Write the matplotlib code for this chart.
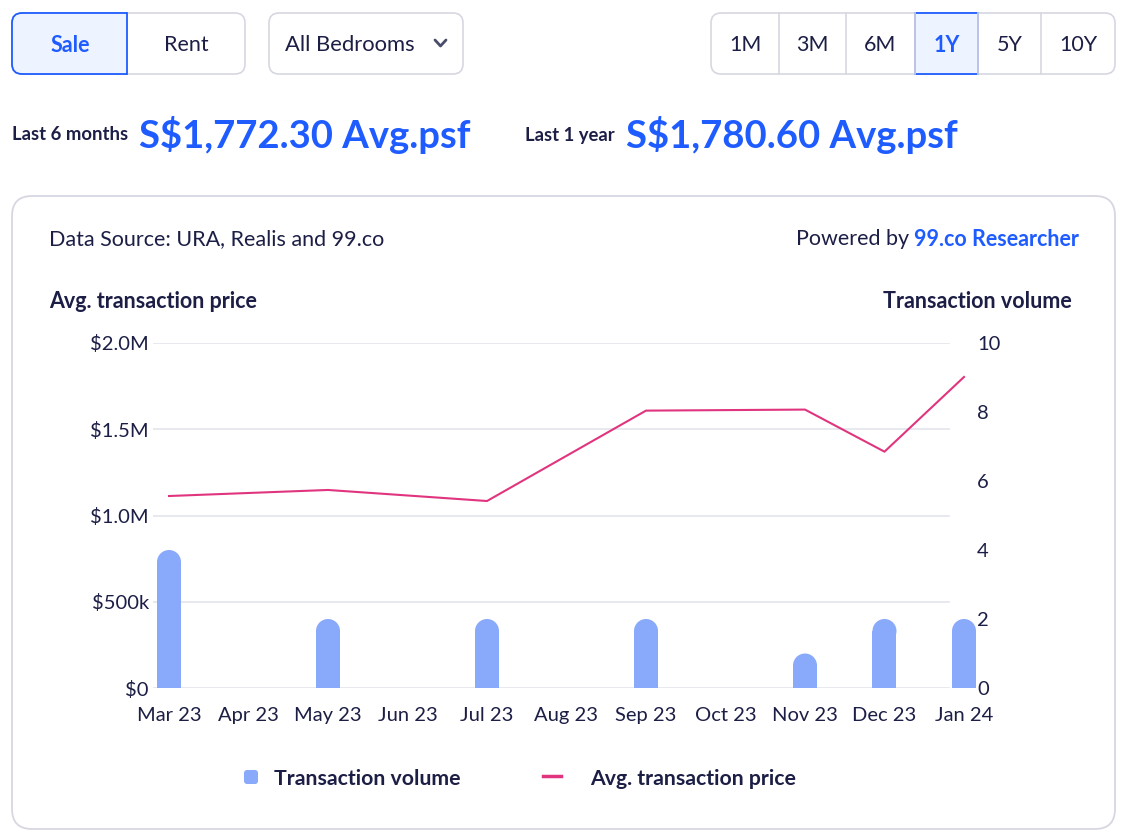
import numpy as np
import matplotlib.pyplot as plt
from matplotlib.patches import FancyBboxPatch, Rectangle, Ellipse

months = ["Mar 23", "Apr 23", "May 23", "Jun 23", "Jul 23", "Aug 23",
          "Sep 23", "Oct 23", "Nov 23", "Dec 23", "Jan 24"]
volume = [4, 0, 2, 0, 2, 0, 2, 0, 1, 2, 2]
price = [1113000, np.nan, 1148000, np.nan, 1084000, np.nan,
         1608000, np.nan, 1614000, 1370000, 1803000]
price_ticks = [0, 500000, 1000000, 1500000, 2000000]
price_labels = ["$0", "$500k", "$1.0M", "$1.5M", "$2.0M"]
vol_ticks = [0, 2, 4, 6, 8, 10]
periods = ["1M", "3M", "6M", "1Y", "5Y", "10Y"]

NAVY = "#1c1e45"
BLUE = "#1f5cff"
BAR = "#89a9fb"
PINK = "#e0357e"
GRID = "#e6e6ee"
BORDER = "#d7d7e2"
LIGHT = "#eef4ff"

plt.rcParams['font.family'] = ['Lato', 'DejaVu Sans']

W, H = 1131, 840
fig = plt.figure(figsize=(W / 100, H / 100), dpi=100)
fig.patch.set_facecolor("white")

# background layer in pixel coordinates (y downwards)
bg = fig.add_axes([0, 0, 1, 1], zorder=0)
bg.set_xlim(0, W)
bg.set_ylim(H, 0)
bg.axis("off")


def rbox(x0, y0, x1, y1, r, fc="white", ec=BORDER, lw=1.2, **kw):
    p = FancyBboxPatch((x0, y0), x1 - x0, y1 - y0,
                       boxstyle=f"round,pad=0,rounding_size={r}",
                       fc=fc, ec=ec, lw=lw, **kw)
    bg.add_patch(p)
    return p


# Sale / Rent toggle
rbox(12, 13, 245, 74, 10)
sale = rbox(12, 13, 140, 74, 10, fc=LIGHT, ec=BLUE, lw=1.3)
clip = Rectangle((0, 0), 127, 100, transform=bg.transData)
sale.set_clip_path(clip)
bg.plot([127, 127], [13, 74], color=BLUE, lw=1.3)
bg.text(70, 45, "Sale", color=BLUE, fontsize=15.5, fontweight="bold",
        ha="center", va="center")
bg.text(186, 45, "Rent", color=NAVY, fontsize=15.5, ha="center", va="center")

# bedrooms dropdown
rbox(269, 13, 463, 74, 10)
bg.text(285, 45, "All Bedrooms", color=NAVY, fontsize=15.8, ha="left", va="center")
bg.plot([435, 440.5, 446], [40, 46, 40], color="#4a4d6a", lw=2,
        solid_capstyle="round", solid_joinstyle="round")

# period selector
rbox(711, 13, 1115, 74, 10)
edges = [711, 779, 846, 915, 978, 1041, 1115]
for xe in edges[1:-1]:
    bg.plot([xe, xe], [13, 74], color=BORDER, lw=1.2)
bg.add_patch(Rectangle((915, 13), 63, 61, fc=LIGHT, ec=BLUE, lw=1.3))
for i, lab in enumerate(periods):
    cx = (edges[i] + edges[i + 1]) / 2
    sel = lab == "1Y"
    bg.text(cx, 45, lab, color=BLUE if sel else NAVY, fontsize=15.5,
            fontweight="bold" if sel else "normal", ha="center", va="center")

# headline values
bg.text(12, 135, "Last 6 months", color=NAVY, fontsize=13.3, fontweight="bold",
        ha="left", va="center")
bg.text(139, 135, "S$1,772.30 Avg.psf", color=BLUE, fontsize=27.5,
        fontweight="bold", ha="left", va="center")
bg.text(525, 135, "Last 1 year", color=NAVY, fontsize=13.3, fontweight="bold",
        ha="left", va="center")
bg.text(626, 135, "S$1,780.60 Avg.psf", color=BLUE, fontsize=27.5,
        fontweight="bold", ha="left", va="center")

# card
rbox(12, 196, 1115, 829, 20, lw=1.3)
bg.text(49, 239, "Data Source: URA, Realis and 99.co", color=NAVY,
        fontsize=15.5, ha="left", va="center")
t = bg.text(1079, 239, "99.co Researcher", color=BLUE, fontsize=15.5,
            fontweight="bold", ha="right", va="center")
bg.annotate("Powered by ", xy=(0, 0.5), xycoords=t, color=NAVY, fontsize=15.5,
            ha="right", va="center")
bg.text(49, 302, "Avg. transaction price", color=NAVY, fontsize=15.5,
        fontweight="bold", ha="left", va="center")
bg.text(1072, 302, "Transaction volume", color=NAVY, fontsize=15.5,
        fontweight="bold", ha="right", va="center")

# legend
bg.add_patch(FancyBboxPatch((244, 770), 14, 14,
                            boxstyle="round,pad=0,rounding_size=3",
                            fc=BAR, ec="none"))
bg.text(274, 779, "Transaction volume", color=NAVY, fontsize=15.3,
        fontweight="bold", ha="left", va="center")
bg.plot([543, 561], [776, 776], color=PINK, lw=2.5)
bg.text(590, 779, "Avg. transaction price", color=NAVY, fontsize=15.3,
        fontweight="bold", ha="left", va="center")

# chart axes
left_px, right_px, top_px, bot_px = 153, 970, 343, 688
x0_px, step_px = 169, 79.5
ax = fig.add_axes([left_px / W, 1 - bot_px / H,
                   (right_px - left_px) / W, (bot_px - top_px) / H], zorder=1)
ax.patch.set_alpha(0)
x = np.arange(len(months))
ax.set_xlim(-(x0_px - left_px) / step_px, (right_px - x0_px) / step_px)
ax.set_ylim(0, 2000000)
for s in ax.spines.values():
    s.set_visible(False)
grid_end = (949 - left_px) / (right_px - left_px)
for v in price_ticks:
    ax.axhline(v, xmin=0, xmax=grid_end, color=GRID, lw=1.3, zorder=0)
ax.set_yticks(price_ticks)
ax.set_yticklabels(price_labels)
ax.set_xticks(x)
ax.set_xticklabels(months)
ax.tick_params(axis="both", length=0, labelsize=14.5, colors=NAVY)
ax.tick_params(axis="y", pad=3)
ax.tick_params(axis="x", pad=14)

ax2 = ax.twinx()
ax2.set_ylim(0, 10)
for s in ax2.spines.values():
    s.set_visible(False)
ax2.set_yticks(vol_ticks)
ax2.tick_params(axis="y", length=0, labelsize=14.5, colors=NAVY, pad=5)

# bars with rounded tops
bar_w = 24 / step_px
px_per_vol = (bot_px - top_px) / 10
ry = (12 / px_per_vol)
vol = np.array(volume, dtype=float)
has = vol > 0
ax2.bar(x[has], vol[has] - ry, width=bar_w, bottom=0, color=BAR,
        clip_on=False, zorder=2)
for xi, v in zip(x[has], vol[has]):
    ax2.add_patch(Ellipse((xi, v - ry), bar_w, 2 * ry, fc=BAR, ec="none",
                          clip_on=False, zorder=2))

# price line on top
pr = np.array(price, dtype=float)
ok = ~np.isnan(pr)
ax3 = ax.twinx()
ax3.set_ylim(ax.get_ylim())
ax3.axis("off")
ax3.plot(x[ok], pr[ok], color=PINK, lw=1.5, clip_on=False, zorder=3)

fig.savefig("out.png", dpi=100)
